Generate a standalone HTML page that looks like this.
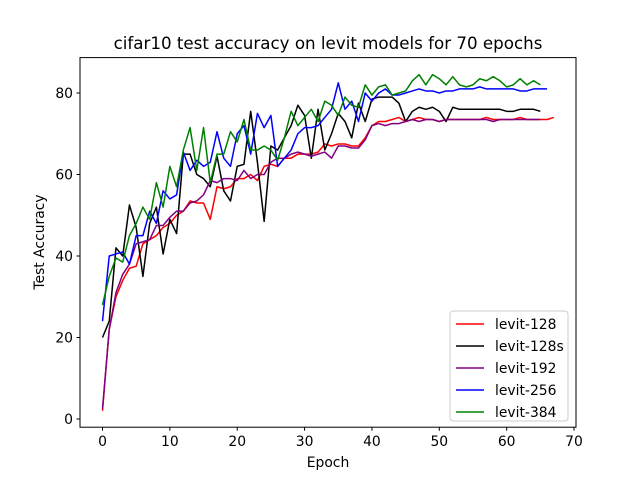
<!DOCTYPE html>
<html><head><meta charset="utf-8"><style>
body{margin:0;background:#fff;}
svg text{font-family:"DejaVu Sans","Liberation Sans",sans-serif;}
</style></head><body>
<svg id="chart" width="640" height="480" xmlns="http://www.w3.org/2000/svg">
<rect width="640" height="480" fill="#fff"/>
<text x="328" y="49" font-size="16.7" text-anchor="middle">cifar10 test accuracy on levit models for 70 epochs</text>
<g id="plot"></g>
<rect x="80" y="57.6" width="496" height="369.6" fill="none" stroke="#000" stroke-width="1"/>
<text x="328" y="467" font-size="13.9" text-anchor="middle">Epoch</text>
<text x="44" y="242" font-size="13.9" text-anchor="middle" transform="rotate(-90 44 242)">Test Accuracy</text>
<g id="legend"></g>
</svg>
<script>
const names=["levit-128","levit-128s","levit-192","levit-256","levit-384"];
const colors=["#ff0000","#000000","#800080","#0000ff","#008000"];
const xTicks=[0,10,20,30,40,50,60,70];
const yTicks=[0,20,40,60,80];
const s128=[2,22,30,34,37,37.5,43,44,45,47,48,50,51,53.5,53,53,49,57,56.5,57,59,59,60,58.5,62,62.5,62,64,64,65,65,65,65.5,67.5,67,67.5,67.5,67,67,69,72,73,73,73.5,74,73,73.5,74,73.5,73.5,73,73.5,73.5,73.5,73.5,73.5,73.5,74,73.5,73.5,73.5,73.5,74,73.5,73.5,73.5,73.5,74];
const s128s=[20,24,42,40,52.5,47,35,48,52,40.5,49,45.5,65,65,60,59,57,64.5,56,53.5,62,62.5,75.5,63,48.5,67,66,69,72,77,74.5,64,76,66,70,75,73,69,77.5,73,78.5,79,79,79,77.5,73,75.5,76.5,76,76.5,75.5,73,76.5,76,76,76,76,76,76,76,75.5,75.5,76,76,76,75.5];
const s192=[2.5,22,31,35.5,38,43,43.5,44,47.5,47.5,49.5,51,51,53,53.5,55,58.5,58,59,59,58.5,61,59,60,60,63,64,64,65,65.5,65,64.5,65,65.5,64,67,67,66.5,66.5,68.5,72,72.5,72,72.5,72.5,73,73.5,73,73.5,73.5,73,73.5,73.5,73.5,73.5,73.5,73.5,73.5,73,73.5,73.5,73.5,73.5,73.5,73.5,73.5];
const s256=[24,40,40.5,41,38,45,45,51,48,56,54,55,65.5,61,63.5,62,63,70.5,64,62,70,72,65,75,71.5,74.5,62,64,66,70,71.5,71.5,72,74,76,82.5,76,78,73,80,78,80,81,79.5,79.5,80,80.5,81,80.5,80.5,80,80.5,80.5,81,81,81,81.5,81,81,81,81,81,80.5,80.5,81,81,81];
const s384=[28,35,39.5,38.5,45,48,52,49,58,52,62,57,66,71.5,61,71.5,58,65,65,70.5,68,73.5,66,66,67,66,63.5,69,75.5,72,74,76,73,78,77,74.5,79,77,76.5,82,79.5,81.5,82,79.5,80,80.5,83,84.5,82,84.5,83.5,82,84,82,81.5,82,83.5,83,84,83,81.5,82,83.5,82,83,82];
const series=[s128,s128s,s192,s256,s384];
const NS="http://www.w3.org/2000/svg";
const X=v=>102.5+v*6.736;
const Y=v=>419-v*4.075;
const plot=document.getElementById('plot');
function mk(t,a,p){const e=document.createElementNS(NS,t);for(const k in a)e.setAttribute(k,a[k]);p.appendChild(e);return e;}
xTicks.forEach(t=>{
  const l=mk('line',{x1:X(t),x2:X(t),y1:427.2,y2:430.7,stroke:'#000'},plot);
  
  
  const tx=mk('text',{x:X(t),y:446,'font-size':13.9,'text-anchor':'middle'},plot);tx.textContent=t;
  
  
});
yTicks.forEach(t=>{
  const l=mk('line',{x1:76.5,x2:80,y1:Y(t),y2:Y(t),stroke:'#000'},plot);
  
  
  const tx=mk('text',{x:73,y:Y(t)+5,'font-size':13.9,'text-anchor':'end'},plot);tx.textContent=t;
  
  
});
series.forEach((s,i)=>{
  const p=mk('polyline',{points:s.map((v,j)=>X(j)+','+Y(v)).join(' '),fill:'none',stroke:colors[i],'stroke-width':1.5,'stroke-linejoin':'round'},plot);
  
  
});
const lg=document.getElementById('legend');
const bx=mk('rect',{x:450,y:311,width:118,height:110,rx:3,fill:'#fff','fill-opacity':0.8,stroke:'#ccc'},lg);


names.forEach((n,i)=>{
  const y=324+i*22;
  const l=mk('line',{x1:456,x2:484,y1:y,y2:y,stroke:colors[i],'stroke-width':1.5},lg);
  
  
  const t=mk('text',{x:495,y:y+5,'font-size':13.9},lg);t.textContent=n;
  
  
});
</script>
</body></html>
